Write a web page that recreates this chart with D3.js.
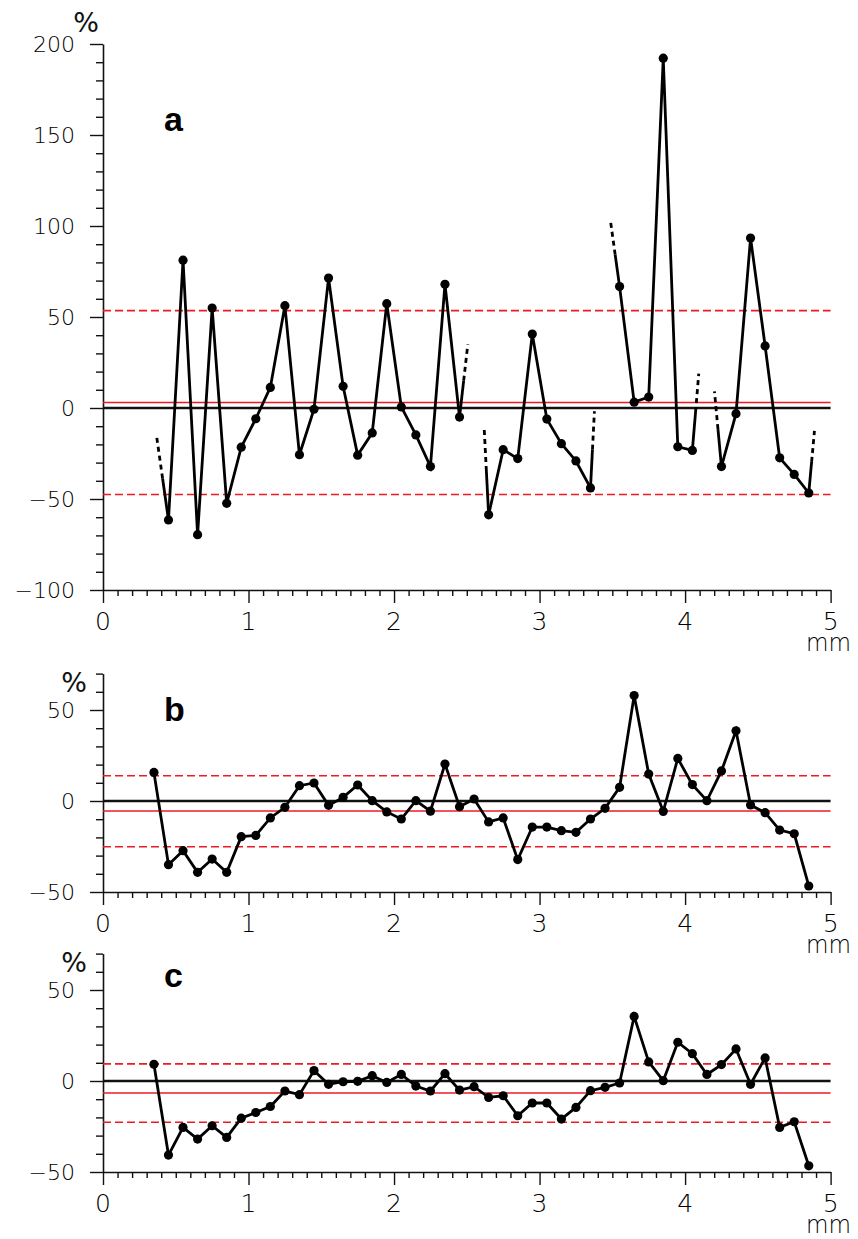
<!DOCTYPE html>
<html>
<head>
<meta charset="utf-8">
<script src="https://cdn.jsdelivr.net/npm/d3@7"></script>
<style>
  html, body { margin: 0; padding: 0; background: #fff; }
  svg { display: block; }
  .tick-label { font-family: "DejaVu Sans", sans-serif; font-weight: 200; fill: #000; }
</style>
</head>
<body>
<svg id="chart" width="858" height="1239"></svg>
<script>
// ---------- data ----------
const xTickLabels = [0, 1, 2, 3, 4, 5];
const panelLetters = ["a", "b", "c"];

// positions (mm) of samples
const posA = [0.45,0.55,0.65,0.75,0.85,0.95,1.05,1.15,1.25,1.35,1.45,1.55,1.65,1.75,1.85,1.95,2.05,2.15,2.25,2.35,2.45,2.55,2.65,2.75,2.85,2.95,3.05,3.15,3.25,3.35,3.45,3.55,3.65,3.75,3.85,3.95,4.05,4.15,4.25,4.35,4.45,4.55,4.65,4.75,4.85];
const posBC = [0.35,0.45,0.55,0.65,0.75,0.85,0.95,1.05,1.15,1.25,1.35,1.45,1.55,1.65,1.75,1.85,1.95,2.05,2.15,2.25,2.35,2.45,2.55,2.65,2.75,2.85,2.95,3.05,3.15,3.25,3.35,3.45,3.55,3.65,3.75,3.85,3.95,4.05,4.15,4.25,4.35,4.45,4.55,4.65,4.75,4.85];

// panel a values (%), null = missing sample
const valuesA = [-61.5,81.2,-69.6,54.9,-52.4,-21.5,-5.9,11.3,56.2,-25.7,-0.7,71.4,11.9,-25.9,-13.7,57.3,0.6,-14.8,-32.2,68,-5.0,null,-58.7,-22.9,-27.8,40.6,-6.1,-19.6,-29.1,-43.9,null,66.7,3.2,6.0,192.2,-21.3,-23.3,null,-32.2,-3.1,93.4,34.1,-27.4,-36.5,-46.7];
// broken-line stubs of panel a (from sample position toward a missing neighbour)
const stubFromA = [0.45, 2.45, 2.65, 3.35, 3.55, 4.05, 4.25, 4.85];
const stubToXA  = [0.369, 2.507, 2.619, 3.377, 3.489, 4.094, 4.202, 4.889];
const stubToYA  = [-15.9, 35, -10.5, -1.8, 101.9, 18.9, 9.1, -12.6];

const valuesB = [15.7,-35,-27.3,-39.2,-31.9,-39.2,-19.6,-18.9,-9.3,-3.5,8.4,9.9,-2.4,2.0,8.8,0.2,-6.0,-9.9,0.2,-5.6,20.3,-3.1,1.1,-11.5,-9.3,-32.2,-14.3,-14.3,-16.3,-17.2,-9.9,-4.0,7.5,57.9,14.8,-5.7,23.4,9.0,0.2,16.5,38.6,-2.2,-6.4,-16,-18,-46.7];
const valuesC = [9.2,-40.7,-25.5,-31.9,-24.6,-31,-20.4,-17.3,-14,-5.5,-7.5,5.7,-1.8,-0.4,-0.2,2.9,-0.8,3.6,-2.8,-5.5,4.0,-5,-3.1,-9,-8.1,-19.1,-12.1,-12.1,-20.9,-14.5,-5.3,-3.5,-1.1,35.5,10.5,0.2,21.3,15,3.6,9.0,17.6,-1.8,12.7,-25.5,-22.4,-46.6];

// mean and ±limit lines (%)
const meanLines  = [3, -5.5, -6.6];
const upperLines = [53.5, 13.9, 9.4];
const lowerLines = [-47.5, -25.1, -22.7];

// y domains and labelled ticks
const yDomA = [-100, 200];
const yDomBC = [-50, 70];
const yLabelsA = [-100, -50, 0, 50, 100, 150, 200];
const yLabelsBC = [-50, 0, 50];

// ---------- drawing ----------
const svg = d3.select("#chart");
const RED = "#ee1b24";
const x = d3.scaleLinear().domain([0, 5]).range([103, 830.6]);

function fmt(v) { return v < 0 ? "\u2212" + Math.abs(v) : String(v); }

function drawPanel(cfg) {
  const y = d3.scaleLinear().domain(cfg.yDom).range(cfg.yRange);
  const g = svg.append("g");

  // Y axis
  const yMinor = d3.range(cfg.yDom[0], cfg.yDom[1] + 1, 10);
  const yAxis = d3.axisLeft(y).tickValues(yMinor)
    .tickSize(7).tickSizeOuter(0).tickFormat("");
  const ya = g.append("g").attr("transform", `translate(${x(0)},0)`).call(yAxis);
  ya.selectAll("line").attr("stroke", "#111").attr("stroke-width", 1.4)
    .attr("x2", d => cfg.yLabels.includes(d) ? -13 : -7);
  ya.select(".domain").attr("stroke", "#111").attr("stroke-width", 1.6);
  g.selectAll(".ylab").data(cfg.yLabels).join("text")
    .attr("class", "tick-label")
    .attr("x", 75).attr("y", d => y(d)).attr("dy", "0.36em")
    .attr("text-anchor", "end").attr("font-size", 22)
    .text(fmt);

  // X axis
  const xMinor = d3.range(0, 51).map(i => i / 10);
  const xAxis = d3.axisBottom(x).tickValues(xMinor).tickSize(6).tickSizeOuter(0).tickFormat("");
  const xa = g.append("g").attr("transform", `translate(0,${y(cfg.yDom[0])})`).call(xAxis);
  xa.selectAll("line").attr("stroke", "#111").attr("stroke-width", 1.4)
    .attr("y2", d => Math.abs(d - Math.round(d)) < 1e-6 ? 13 : 6);
  xa.select(".domain").attr("stroke", "#111").attr("stroke-width", 1.6);
  g.selectAll(".xlab").data(xTickLabels).join("text")
    .attr("class", "tick-label")
    .attr("x", d => x(d)).attr("y", y(cfg.yDom[0]) + 40)
    .attr("text-anchor", "middle").attr("font-size", 25)
    .text(d => d);
  g.append("text").attr("class", "tick-label")
    .attr("x", 851).attr("y", y(cfg.yDom[0]) + 61)
    .attr("text-anchor", "end").attr("font-size", 24)
    .attr("font-weight", 300)
    .attr("textLength", 45).attr("lengthAdjust", "spacingAndGlyphs")
    .text("mm");
  g.append("text")
    .attr("x", cfg.pctX).attr("y", cfg.pctY)
    .attr("text-anchor", "middle")
    .attr("font-family", "DejaVu Sans, sans-serif").attr("font-size", 27)
    .attr("fill", "#111")
    .text("%");

  // reference lines
  const x0 = x(0), x1 = x(5);
  g.append("line").attr("x1", x0).attr("x2", x1)
    .attr("y1", y(cfg.upper)).attr("y2", y(cfg.upper))
    .attr("stroke", RED).attr("stroke-width", 1.6).attr("stroke-dasharray", "8,4");
  g.append("line").attr("x1", x0).attr("x2", x1)
    .attr("y1", y(cfg.lower)).attr("y2", y(cfg.lower))
    .attr("stroke", RED).attr("stroke-width", 1.6).attr("stroke-dasharray", "8,4");
  g.append("line").attr("x1", x0).attr("x2", x1)
    .attr("y1", y(0)).attr("y2", y(0))
    .attr("stroke", "#111").attr("stroke-width", 2.4);
  g.append("line").attr("x1", x0).attr("x2", x1)
    .attr("y1", y(cfg.mean)).attr("y2", y(cfg.mean))
    .attr("stroke", RED).attr("stroke-width", 1.6);

  // data line
  const pts = cfg.pos.map((p, i) => ({ p, v: cfg.values[i] }));
  const line = d3.line().defined(d => d.v !== null).x(d => x(d.p)).y(d => y(d.v));
  g.append("path").datum(pts).attr("d", line)
    .attr("fill", "none").attr("stroke", "#000").attr("stroke-width", 2.8)
    .attr("stroke-linejoin", "miter");

  // stubs
  if (cfg.stubFrom) {
    cfg.stubFrom.forEach((sx, i) => {
      const idx = cfg.pos.findIndex(p => Math.abs(p - sx) < 1e-6);
      const sv = cfg.values[idx];
      const ex = cfg.stubToX[i], ev = cfg.stubToY[i];
      const mx = sx + (ex - sx) * 0.5, mv = sv + (ev - sv) * 0.5;
      g.append("line").attr("x1", x(sx)).attr("y1", y(sv)).attr("x2", x(mx)).attr("y2", y(mv))
        .attr("stroke", "#000").attr("stroke-width", 2.8);
      g.append("line").attr("x1", x(mx)).attr("y1", y(mv)).attr("x2", x(ex)).attr("y2", y(ev))
        .attr("stroke", "#000").attr("stroke-width", 2.8).attr("stroke-dasharray", "5,4");
    });
  }

  g.selectAll(".dot").data(pts.filter(d => d.v !== null)).join("circle")
    .attr("cx", d => x(d.p)).attr("cy", d => y(d.v)).attr("r", 4.6).attr("fill", "#000");

  // panel letter
  g.append("text").attr("x", 164).attr("y", cfg.letterY)
    .attr("font-family", "Liberation Sans, Arial, sans-serif").attr("font-weight", "bold")
    .attr("font-size", 34).attr("fill", "#000")
    .text(cfg.letter);
}

drawPanel({ yDom: yDomA, yRange: [590, 44], yLabels: yLabelsA, pos: posA, values: valuesA,
  mean: meanLines[0], upper: upperLines[0], lower: lowerLines[0],
  stubFrom: stubFromA, stubToX: stubToXA, stubToY: stubToYA,
  pctX: 86, pctY: 32, letter: panelLetters[0], letterY: 131 });
drawPanel({ yDom: yDomBC, yRange: [892, 673.6], yLabels: yLabelsBC, pos: posBC, values: valuesB,
  mean: meanLines[1], upper: upperLines[1], lower: lowerLines[1],
  pctX: 74, pctY: 692, letter: panelLetters[1], letterY: 721 });
drawPanel({ yDom: yDomBC, yRange: [1172, 953.6], yLabels: yLabelsBC, pos: posBC, values: valuesC,
  mean: meanLines[2], upper: upperLines[2], lower: lowerLines[2],
  pctX: 74, pctY: 972, letter: panelLetters[2], letterY: 987 });
</script>
</body>
</html>
